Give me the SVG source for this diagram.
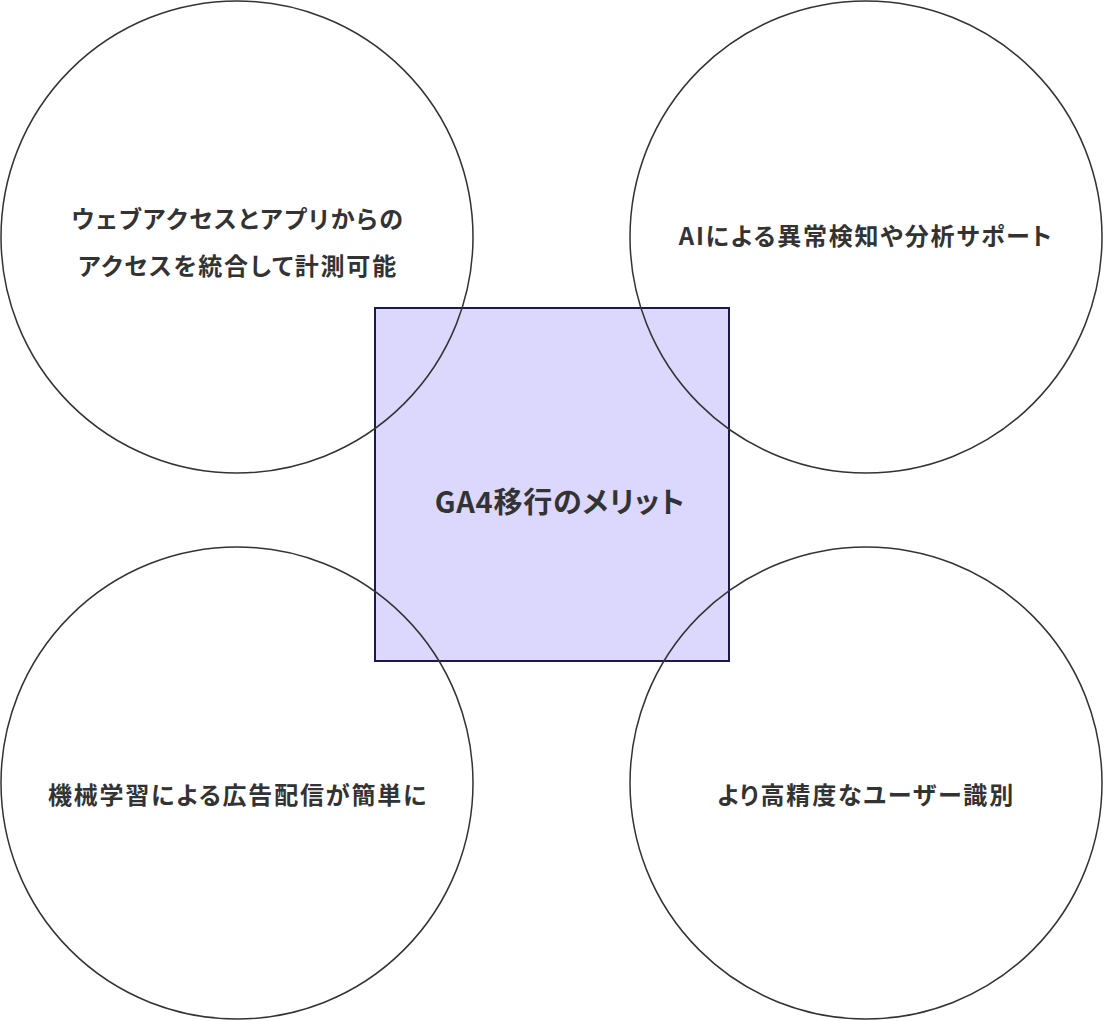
<svg xmlns="http://www.w3.org/2000/svg" width="1104" height="1021" viewBox="0 0 1104 1021">
<style>
.lbl{font-family:"Noto Sans CJK JP","Noto Sans",sans-serif;font-weight:700;fill:#333333;font-size:24px;letter-spacing:1.8px;text-anchor:middle;dominant-baseline:central;font-feature-settings:"palt";}
.ctr{font-size:29px;letter-spacing:0.8px;}
.circ{fill:none;stroke:#333333;stroke-width:1.5;}
.sq{fill:#dcd7fd;stroke:#1c1a4a;stroke-width:2;}
</style>
<rect width="1104" height="1021" fill="#ffffff"/>
<g id="center">
<rect class="sq" x="375" y="308" width="354" height="353"/>
<text class="lbl ctr" x="560" y="500">GA4移行のメリット</text>
</g>
<g id="connectors"></g>
<g id="node-tl">
<circle class="circ" cx="237" cy="237" r="236"/>
<text class="lbl" x="238" y="217">ウェブアクセスとアプリからの</text>
<text class="lbl" x="238" y="264">アクセスを統合して計測可能</text>
</g>
<g id="node-tr">
<circle class="circ" cx="866" cy="237" r="236"/>
<text class="lbl" x="866" y="234">AIによる異常検知や分析サポート</text>
</g>
<g id="node-bl">
<circle class="circ" cx="237" cy="783" r="236"/>
<text class="lbl" x="238" y="793">機械学習による広告配信が簡単に</text>
</g>
<g id="node-br">
<circle class="circ" cx="866" cy="783" r="236"/>
<text class="lbl" x="866" y="793">より高精度なユーザー識別</text>
</g>
</svg>
